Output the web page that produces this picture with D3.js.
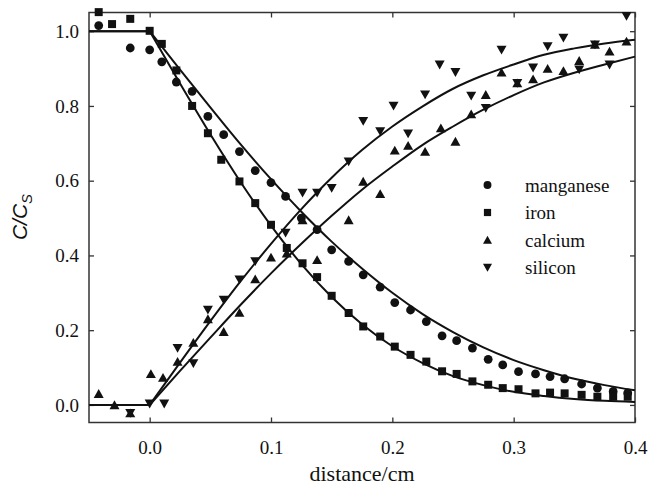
<!DOCTYPE html>
<html>
<head>
<meta charset="utf-8">
<script src="https://cdn.jsdelivr.net/npm/d3@7"></script>
<style>
  html, body { margin: 0; padding: 0; background: #fff; }
  svg { display: block; }
</style>
</head>
<body>
<svg id="chart" width="650" height="488"></svg>
<script>
// ---------- data ----------
const xTicks = [0.0, 0.1, 0.2, 0.3, 0.4];
const yTicks = [0.0, 0.2, 0.4, 0.6, 0.8, 1.0];
const seriesNames = ["manganese", "iron", "calcium", "silicon"];

const manganese = [[-0.042,1.015],[-0.016,0.955],[0.0,0.950],[0.010,0.918],[0.022,0.864],[0.035,0.839],[0.048,0.772],[0.061,0.723],[0.074,0.678],[0.087,0.627],[0.100,0.595],[0.112,0.558],[0.125,0.500],[0.138,0.469],[0.150,0.415],[0.164,0.384],[0.176,0.348],[0.190,0.315],[0.202,0.274],[0.215,0.254],[0.228,0.223],[0.241,0.185],[0.253,0.172],[0.266,0.152],[0.279,0.122],[0.291,0.107],[0.304,0.089],[0.318,0.083],[0.330,0.076],[0.342,0.070],[0.356,0.056],[0.369,0.045],[0.382,0.036],[0.394,0.032]];

const iron = [[-0.042,1.051],[-0.031,1.019],[-0.016,1.033],[0.0,1.001],[0.010,0.966],[0.022,0.895],[0.035,0.800],[0.048,0.727],[0.059,0.656],[0.074,0.598],[0.087,0.540],[0.100,0.482],[0.113,0.420],[0.126,0.379],[0.138,0.342],[0.150,0.292],[0.164,0.246],[0.176,0.210],[0.190,0.183],[0.202,0.156],[0.215,0.134],[0.228,0.116],[0.241,0.090],[0.253,0.083],[0.266,0.063],[0.279,0.054],[0.291,0.045],[0.304,0.042],[0.318,0.031],[0.330,0.033],[0.342,0.031],[0.356,0.027],[0.369,0.022],[0.382,0.022],[0.394,0.022]];

const calcium = [[-0.042,0.030],[-0.029,0.0],[-0.016,-0.022],[0.001,0.083],[0.011,0.073],[0.023,0.116],[0.036,0.167],[0.048,0.230],[0.061,0.196],[0.074,0.247],[0.087,0.337],[0.100,0.395],[0.113,0.406],[0.126,0.495],[0.138,0.388],[0.164,0.495],[0.176,0.598],[0.190,0.565],[0.202,0.681],[0.213,0.694],[0.227,0.678],[0.240,0.741],[0.252,0.705],[0.265,0.778],[0.277,0.830],[0.290,0.890],[0.303,0.861],[0.316,0.872],[0.328,0.900],[0.341,0.894],[0.354,0.921],[0.367,0.964],[0.379,0.946],[0.393,0.973]];

const silicon = [[-0.016,-0.022],[0.0,0.003],[0.012,0.003],[0.023,0.152],[0.036,0.111],[0.048,0.254],[0.061,0.281],[0.074,0.335],[0.087,0.384],[0.112,0.460],[0.126,0.567],[0.138,0.567],[0.150,0.580],[0.164,0.651],[0.176,0.759],[0.190,0.732],[0.201,0.800],[0.213,0.726],[0.227,0.830],[0.239,0.910],[0.252,0.890],[0.265,0.827],[0.277,0.794],[0.290,0.950],[0.303,0.861],[0.316,0.902],[0.328,0.959],[0.341,0.982],[0.354,0.897],[0.367,0.964],[0.379,0.910],[0.393,1.040]];

// fitted curves, sampled along x
const curveX = [-0.05, 0.0, 0.025, 0.05, 0.075, 0.1, 0.125, 0.15, 0.175, 0.2, 0.225, 0.25, 0.275, 0.3, 0.325, 0.35, 0.375, 0.4];
const mnFit = [1, 1, 0.897, 0.796, 0.697, 0.604, 0.517, 0.437, 0.365, 0.300, 0.243, 0.195, 0.154, 0.120, 0.093, 0.070, 0.053, 0.039];
const feFit = [1, 1, 0.860, 0.724, 0.596, 0.480, 0.377, 0.289, 0.216, 0.157, 0.112, 0.077, 0.053, 0.035, 0.024, 0.016, 0.011, 0.008];
const caFit = [0, 0, 0.091, 0.180, 0.268, 0.352, 0.431, 0.506, 0.576, 0.638, 0.696, 0.745, 0.790, 0.829, 0.863, 0.889, 0.911, 0.932];
const siFit = [0, 0, 0.113, 0.224, 0.331, 0.431, 0.524, 0.608, 0.682, 0.745, 0.799, 0.846, 0.882, 0.911, 0.937, 0.954, 0.967, 0.977];

// ---------- drawing ----------
const svg = d3.select("#chart");
const L = 89, R = 635, T = 12.5, B = 422.5;
const x = d3.scaleLinear().domain([-0.05, 0.4]).range([L, R]);
const y = d3.scaleLinear().domain([-0.047, 1.05]).range([B, T]);
const ink = "#111";
const serif = "'Liberation Serif', 'Times New Roman', serif";

// frame
svg.append("rect").attr("x", L).attr("y", T).attr("width", R - L).attr("height", B - T)
  .attr("fill", "none").attr("stroke", "#333").attr("stroke-width", 1.5);

function styleAxis(g, showLabels) {
  g.select(".domain").remove();
  g.selectAll(".tick line").attr("stroke", "#333").attr("stroke-width", 1.3);
  g.selectAll(".tick text").attr("font-family", serif).attr("font-size", 19).attr("fill", ink);
  if (!showLabels) g.selectAll(".tick text").remove();
}
const fmt = d3.format(".1f");
svg.append("g").attr("transform", `translate(0,${B})`)
  .call(d3.axisBottom(x).tickValues(xTicks).tickFormat(fmt).tickSize(-5).tickPadding(18))
  .call(g => styleAxis(g, true));
svg.append("g").attr("transform", `translate(0,${T})`)
  .call(d3.axisTop(x).tickValues(xTicks).tickSize(-5))
  .call(g => styleAxis(g, false));
svg.append("g").attr("transform", `translate(${L},0)`)
  .call(d3.axisLeft(y).tickValues(yTicks).tickFormat(fmt).tickSize(-5).tickPadding(10))
  .call(g => styleAxis(g, true));
svg.append("g").attr("transform", `translate(${R},0)`)
  .call(d3.axisRight(y).tickValues(yTicks).tickSize(-5))
  .call(g => styleAxis(g, false));

// fitted curves
const flatLine = d3.line().x(d => x(d[0])).y(d => y(d[1]));
const smoothLine = d3.line().x(d => x(d[0])).y(d => y(d[1])).curve(d3.curveMonotoneX);
[mnFit, feFit, caFit, siFit].forEach(fit => {
  const pts = curveX.map((cx, i) => [cx, fit[i]]);
  svg.append("path").attr("d", flatLine(pts.slice(0, 2)))
    .attr("fill", "none").attr("stroke", ink).attr("stroke-width", 2);
  svg.append("path").attr("d", smoothLine(pts.slice(1)))
    .attr("fill", "none").attr("stroke", ink).attr("stroke-width", 2);
});

// markers
const markerPath = {
  manganese: "M4.4,0A4.4,4.4 0 1,1 -4.4,0A4.4,4.4 0 1,1 4.4,0Z",
  iron: "M-4,-4H4V4H-4Z",
  calcium: "M0,-4.6L5,4.2L-5,4.2Z",
  silicon: "M0,4.6L5,-4.2L-5,-4.2Z"
};
const seriesData = { manganese, iron, calcium, silicon };
seriesNames.forEach(name => {
  svg.append("g").selectAll("path").data(seriesData[name]).join("path")
    .attr("d", markerPath[name])
    .attr("transform", d => `translate(${x(d[0])},${y(d[1])})`)
    .attr("fill", ink);
});

// legend
const legendY = [185, 212.5, 240, 267.5];
const lg = svg.append("g");
seriesNames.forEach((name, i) => {
  lg.append("path").attr("d", markerPath[name])
    .attr("transform", `translate(487.5,${legendY[i]}) scale(0.9)`).attr("fill", ink);
  lg.append("text").attr("x", 525).attr("y", legendY[i] + 6.5)
    .attr("font-family", serif).attr("font-size", 19).attr("fill", ink).text(name);
});

// axis titles
svg.append("text").attr("x", (L + R) / 2).attr("y", 481)
  .attr("text-anchor", "middle").attr("font-family", serif).attr("font-size", 22)
  .attr("fill", ink).text("distance/cm");

const yl = svg.append("text")
  .attr("transform", "translate(27,217) rotate(-90)")
  .attr("text-anchor", "middle")
  .attr("font-family", "'Liberation Sans', Arial, sans-serif")
  .attr("font-style", "italic").attr("font-size", 21).attr("fill", ink);
yl.append("tspan").text("C/C");
yl.append("tspan").attr("dy", 5).attr("font-size", 15).text("S");
</script>
</body>
</html>
